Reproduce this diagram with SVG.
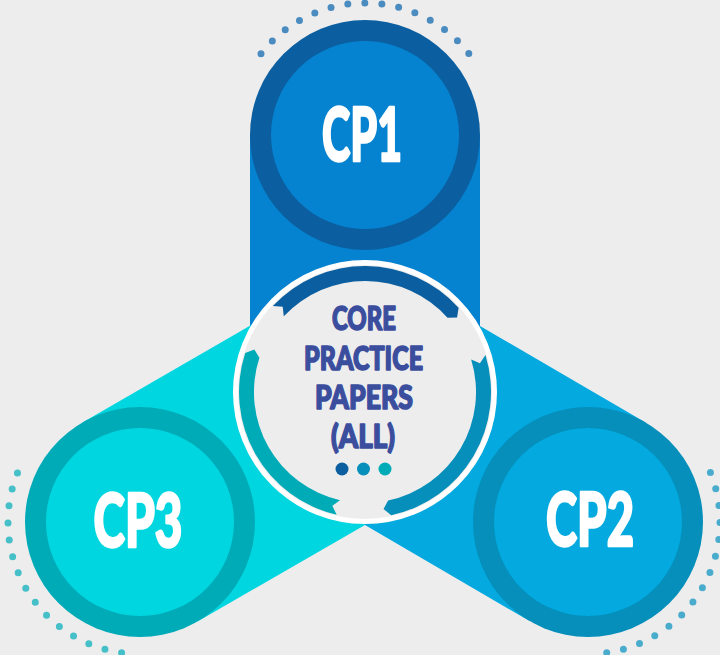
<svg xmlns="http://www.w3.org/2000/svg" xmlns:xlink="http://www.w3.org/1999/xlink" width="720" height="655" viewBox="0 0 720 655">
  <style>
    .nodelabel { font-family: Lato, 'Liberation Sans Narrow', 'Liberation Sans', sans-serif; font-weight: 900; font-size: 74px; fill: #ffffff; stroke: #ffffff; stroke-width: 2.5; stroke-linejoin: round; text-anchor: middle; }
    .core { font-family: Lato, 'Liberation Sans Narrow', 'Liberation Sans', sans-serif; font-weight: 900; font-size: 32.5px; fill: #3b4e9e; stroke: #3b4e9e; stroke-width: 1.6; stroke-linejoin: round; text-anchor: middle; }
    .dots { fill: none; stroke-width: 7; stroke-linecap: round; stroke-dasharray: 0 10; }
  </style>
  <defs>
    <path id="arcSeg" d="M272.8,306.1 A126,126 0 0 1 458.6,307.7 L457.1,317.4 L447.5,317.7 A111,111 0 0 0 283.8,316.3 L282.7,306.8 Z"/>
  </defs>
  <rect x="0" y="0" width="720" height="655" fill="#ededed"/>

  <g id="bands">
    <rect x="250" y="135" width="230" height="257" fill="#0683d0"/>
    <polygon points="365,392 423,292.7 646,422.7 530,621.3 365,525" fill="#03a9df"/>
    <polygon points="365,392 307.5,292.4 82.5,422.4 197.5,621.6 365,525" fill="#00d6e0"/>
  </g>

  <g id="cp1">
    <path class="dots" stroke="#4a8bc0" pathLength="140.2" d="M261,53.7 A132,132 0 0 1 469,53.7"/>
    <circle cx="365" cy="135" r="115" fill="#0b5fa0"/>
    <circle cx="365" cy="135" r="94" fill="#0683d0"/>
    <text class="nodelabel" x="362" y="161" textLength="80" lengthAdjust="spacingAndGlyphs">CP1</text>
  </g>

  <g id="cp2">
    <path class="dots" stroke="#4aaccd" pathLength="140.2" d="M710.4,472.6 A132,132 0 0 1 606.4,652.7"/>
    <circle cx="588" cy="522" r="115" fill="#058fba"/>
    <circle cx="588" cy="522" r="94" fill="#03a9df"/>
    <text class="nodelabel" x="590" y="546" textLength="88" lengthAdjust="spacingAndGlyphs">CP2</text>
  </g>

  <g id="cp3">
    <path class="dots" stroke="#45bfc8" pathLength="140.2" d="M121.6,652.7 A132,132 0 0 1 17.6,472.6"/>
    <circle cx="140" cy="522" r="115" fill="#00abb8"/>
    <circle cx="140" cy="522" r="94" fill="#00d6e0"/>
    <text class="nodelabel" x="138" y="547" textLength="89" lengthAdjust="spacingAndGlyphs">CP3</text>
  </g>

  <g id="core">
    <circle cx="365" cy="392" r="129.5" fill="#ededed" stroke="#ffffff" stroke-width="5"/>
    <use xlink:href="#arcSeg" href="#arcSeg" fill="#0b5fa0"/>
    <use xlink:href="#arcSeg" href="#arcSeg" fill="#058fba" transform="rotate(120 365 392)"/>
    <use xlink:href="#arcSeg" href="#arcSeg" fill="#00abb8" transform="rotate(240 365 392)"/>
    <text class="core" x="364" y="330" textLength="64" lengthAdjust="spacingAndGlyphs">CORE</text>
    <text class="core" x="363.5" y="369.5" textLength="119" lengthAdjust="spacingAndGlyphs">PRACTICE</text>
    <text class="core" x="364" y="408.5" textLength="98" lengthAdjust="spacingAndGlyphs">PAPERS</text>
    <text class="core" x="363" y="447.5" textLength="64" lengthAdjust="spacingAndGlyphs">(ALL)</text>
    <circle cx="342" cy="469" r="6.5" fill="#0b5fa0"/>
    <circle cx="363.5" cy="469" r="6.5" fill="#058fba"/>
    <circle cx="385" cy="469" r="6.5" fill="#00abb8"/>
  </g>
</svg>
